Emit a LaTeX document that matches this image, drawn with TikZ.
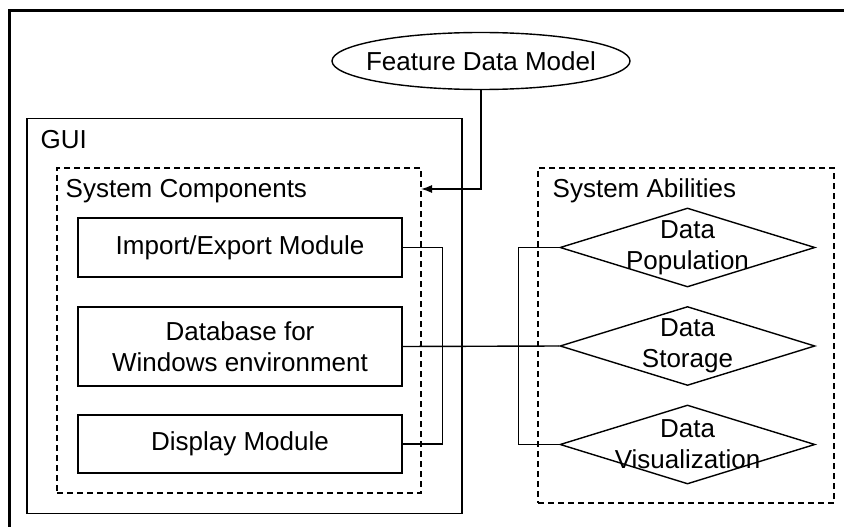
\documentclass[tikz,border=0pt]{standalone}
\usepackage{fontspec}
\setmainfont{Liberation Sans}
\usetikzlibrary{positioning,shapes,calc,arrows.meta}

\begin{document}
\begin{tikzpicture}[x=1pt,y=-1pt,
                     line width=1.4pt,
                     font=\fontsize{26}{31}\selectfont,
                     module/.style={rectangle,draw,minimum width=324pt,inner sep=0pt},
                     group box/.style={rectangle,draw,dash pattern=on 6pt off 4pt,inner sep=0pt},
                     ability/.style={diamond,draw,minimum width=255pt,minimum height=79pt,inner sep=0pt},
                     caption/.style={anchor=base west,inner sep=0pt}
                    ]
   \useasboundingbox (0,0) rectangle (844,527);
   \draw[line width=3pt] (9,11) rectangle (900,600); % outer frame, cut by the page
   \node[ellipse,draw,minimum width=298pt,minimum height=57pt,inner sep=0pt,
         label=center:Feature Data Model] (fdm) at (481,61) {};
   \node[rectangle,draw,minimum width=435pt,minimum height=395pt] (gui) at (244.5,316) {};
   \node[caption] (guitxt) at (40,148) {GUI};
   \node[group box,minimum width=364pt,minimum height=325pt] (sc) at (239,330.5) {};
   \node[caption] (sctxt) at (65,197) {System Components};
   \node[module,minimum height=59pt] (imp) at (240,247.5) {Import/Export Module};
   \node[module,minimum height=79pt,align=center] (db) at (240,346.5) {Database for\\Windows environment};
   \node[module,minimum height=58pt] (disp) at (240,444) {Display Module};
   \node[group box,minimum width=296pt,minimum height=335pt] (sa) at (686,335.5) {};
   \node[caption] (satxt) at (552,197) {System Abilities};
   \node[ability,label={[align=center]center:{Data\\Population}}] (pop) at (687.5,247.5) {};
   \node[ability,label={[align=center]center:{Data\\Storage}}] (stor) at (687.5,346) {};
   \node[ability,label={[align=center]center:{Data\\Visualization}}] (vis) at (687.5,444.5) {};
   \coordinate (scin) at (421,189);
   \draw[-{Latex[length=11pt,width=8pt]}] (fdm.south) |- (scin);
   \draw (imp.east) -- ++(40,0) |- (disp.east);
   \draw (db.east) -- (stor.west);
   \draw (pop.west) -- ++(-41,0) |- (vis.west);
 \end{tikzpicture}
\end{document}
